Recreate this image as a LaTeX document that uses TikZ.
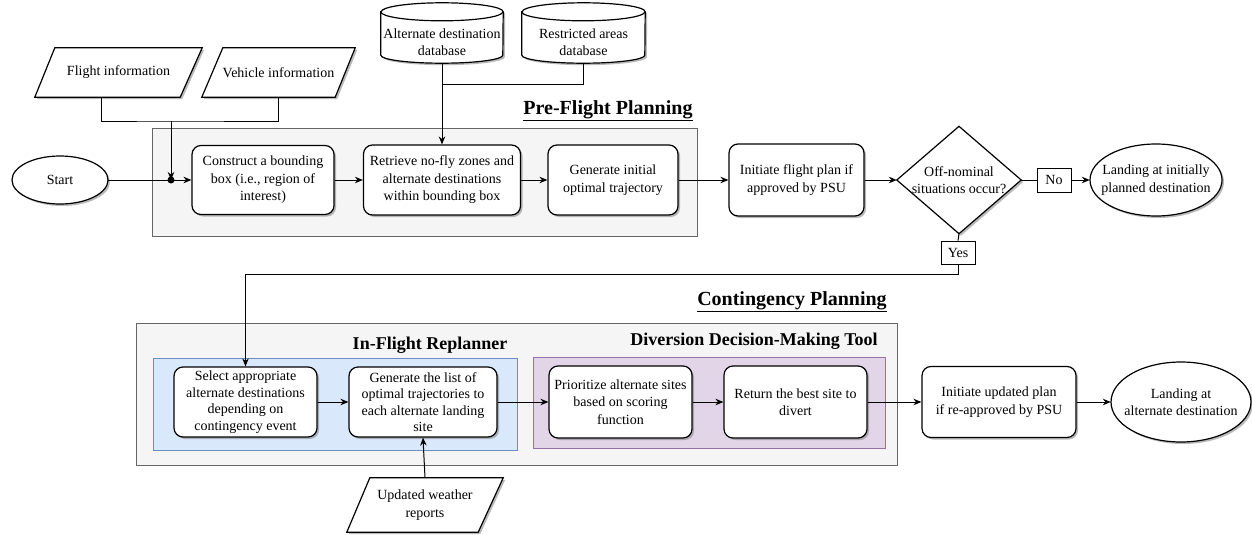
\documentclass[tikz,border=0pt]{standalone}
\usepackage{fontspec}
\setmainfont{Liberation Serif}
\usetikzlibrary{arrows.meta,shadows,calc}
\pgfdeclarelayer{back}
\pgfdeclarelayer{bg}
\pgfsetlayers{back,bg,main}
\definecolor{grpfill}{HTML}{F5F5F5}
\definecolor{grpline}{HTML}{666666}
\definecolor{bluefill}{HTML}{DAE8FC}
\definecolor{blueline}{HTML}{6C8EBF}
\definecolor{purpfill}{HTML}{E1D5E7}
\definecolor{purpline}{HTML}{9673A6}
\newcommand{\ftn}{\fontsize{14}{17.5}\selectfont}
\newcommand{\ftt}{\fontsize{14}{16.5}\selectfont}
\tikzset{
  dshadow/.style={drop shadow={shadow xshift=2pt,shadow yshift=-2pt,fill=black!50,opacity=0.55}},
  box/.style={draw,line width=1.2pt,rounded corners=9pt,fill=white,align=center,inner sep=2pt,font=\ftn,dshadow},
  shp/.style={draw,line width=1.2pt,fill=white,dshadow},
  txt/.style={align=center,inner sep=0pt,font=\ftn},
  arr/.style={-{Stealth[length=8pt,width=6.5pt]},line width=1pt},
  ln/.style={line width=1pt},
  lab/.style={draw,fill=white,line width=0.8pt,inner sep=0pt,minimum width=34pt,minimum height=24pt,font=\ftn},
  grp/.style={draw=grpline,fill=grpfill,line width=1pt},
  title/.style={font=\bfseries\fontsize{20}{24}\selectfont,inner sep=0pt},
  subtitle/.style={font=\bfseries\fontsize{18}{22}\selectfont,inner sep=0pt}
}
\begin{document}
\begin{tikzpicture}[x=1pt,y=-1pt]
\useasboundingbox (0,0) rectangle (1252,535);

% containers
\begin{pgfonlayer}{back}
\draw[grp] (152,128) rectangle (697,236);
\draw[grp] (136,323) rectangle (897,465);
\draw[draw=blueline,fill=bluefill,line width=1pt] (153,358) rectangle (517,450);
\draw[draw=purpline,fill=purpfill,line width=1pt] (533,357) rectangle (885,448);
\end{pgfonlayer}

% titles
\node[title] (tpre) at (608,111) {\underline{Pre-Flight Planning}};
\node[title] (tcon) at (792,302) {\underline{Contingency Planning}};
\node[subtitle] (tifr) at (430,345) {In-Flight Replanner};
\node[subtitle] (tddm) at (754,341) {Diversion Decision-Making Tool};

% inputs
\node[txt,minimum width=167pt,minimum height=49pt] (flight) at (118.5,72.5) {Flight information};
\node[txt,minimum width=153pt,minimum height=49pt] (vehicle) at (278.5,72.5) {Vehicle information};
\node[txt,minimum width=156pt,minimum height=54pt] (weather) at (425,505) {Updated weather\\reports};
\node[txt,minimum width=122pt,minimum height=42pt] (db1) at (442,42) {Alternate destination\\database};
\node[txt,minimum width=123pt,minimum height=42pt] (db2) at (583.5,42) {Restricted areas\\database};

% terminals
\node[txt,minimum width=96pt,minimum height=48pt] (start) at (60,180) {Start};
\node[txt,minimum width=132pt,minimum height=72pt] (land1) at (1156,180) {Landing at initially\\planned destination};
\node[txt,minimum width=140pt,minimum height=80pt] (land2) at (1181,402) {Landing at\\alternate destination};

% process boxes (top row)
\node[box,minimum width=142pt,minimum height=69pt] (construct) at (263,180) {Construct a bounding\\box (i.e., region of\\interest)};
\node[box,minimum width=157pt,minimum height=70pt] (retrieve) at (442,180) {Retrieve no-fly zones and\\alternate destinations\\within bounding box};
\node[box,minimum width=130pt,minimum height=70pt] (generate) at (613,180) {Generate initial\\optimal trajectory};
\node[box,minimum width=135pt,minimum height=72pt] (initiate) at (796.5,180) {Initiate flight plan if\\approved by PSU};
\node[txt,minimum width=124pt,minimum height=107pt] (dec) at (959,180) {Off-nominal\\situations occur?};
\node[lab] (no) at (1054,180) {No};
\node[lab,minimum width=34pt,minimum height=23pt] (yes) at (958,252.5) {Yes};

% process boxes (bottom row)
\node[box,font=\ftt,minimum width=143pt,minimum height=70pt] (select) at (245.5,402) {Select appropriate\\alternate destinations\\depending on\\contingency event};
\node[box,font=\ftt,minimum width=148pt,minimum height=70pt] (genlist) at (423,402) {Generate the list of\\optimal trajectories to\\each alternate landing\\site};
\node[box,minimum width=143pt,minimum height=72pt] (prior) at (620.5,402) {Prioritize alternate sites\\based on scoring\\function};
\node[box,minimum width=143pt,minimum height=72pt] (ret) at (795.5,402) {Return the best site to\\divert};
\node[box,minimum width=154pt,minimum height=71pt] (init2) at (999,402) {Initiate updated plan\\if re-approved by PSU};

% custom shapes behind the text nodes
\begin{pgfonlayer}{bg}
\path[shp] (flight.south west) -- ([xshift=20pt]flight.north west) -- (flight.north east) -- ([xshift=-22pt]flight.south east) -- cycle;
\path[shp] (vehicle.south west) -- ([xshift=21pt]vehicle.north west) -- (vehicle.north east) -- ([xshift=-20pt]vehicle.south east) -- cycle;
\path[shp] (weather.south west) -- ([xshift=23pt]weather.north west) -- (weather.north east) -- ([xshift=-25pt]weather.south east) -- cycle;
\foreach \d/\r in {db1/61,db2/61.5}{
  \path[shp] ([yshift=9pt]\d.north west) -- ([yshift=8pt]\d.south west)
     arc[start angle=180,end angle=360,x radius=\r pt,y radius=8pt]
     -- ([yshift=9pt]\d.north east)
     arc[start angle=0,end angle=180,x radius=\r pt,y radius=9pt] -- cycle;
  \draw[line width=1.2pt] ([yshift=9pt]\d.north west) arc[start angle=180,end angle=360,x radius=\r pt,y radius=9pt];
}
\path[shp] (start.center) ellipse[x radius=48pt,y radius=24pt];
\path[shp] (land1.center) ellipse[x radius=66pt,y radius=36pt];
\path[shp] (land2.center) ellipse[x radius=70pt,y radius=40pt];
\path[shp] (dec.north) -- (dec.east) -- (dec.south) -- (dec.west) -- cycle;
\end{pgfonlayer}

% connectors
\coordinate (jtop) at (171,121);
\coordinate (j) at (171,180);
\coordinate (h84) at (0,84);
\coordinate (h274) at (0,274);
\draw[ln] ([xshift=-17.5pt]flight.south) |- (jtop) -| (vehicle.south);
\draw[arr] (start.east) -- (construct.west);
\draw[arr] (jtop) -- (j);
\fill (j) circle (3.5pt);
\draw[ln] (db2.south) |- (db1.south |- h84);
\draw[arr] (db1.south) -- (retrieve.north);
\draw[arr] (construct) -- (retrieve);
\draw[arr] (retrieve) -- (generate);
\draw[arr] (generate) -- (initiate);
\draw[arr] (initiate) -- (dec.west);
\draw[ln] (dec.east) -- (no.west);
\draw[arr] (no.east) -- (land1.west);
\draw[ln] (dec.south) -- (yes.north);
\draw[arr] (yes.south) -- (yes.south |- h274) -| (select.north);
\draw[arr] (select) -- (genlist);
\draw[arr] (genlist) -- (prior);
\draw[arr] (prior) -- (ret);
\draw[arr] (ret) -- (init2);
\draw[arr] (init2) -- (land2.west);
\draw[arr] (weather.north) -- (genlist.south);
\end{tikzpicture}
\end{document}
